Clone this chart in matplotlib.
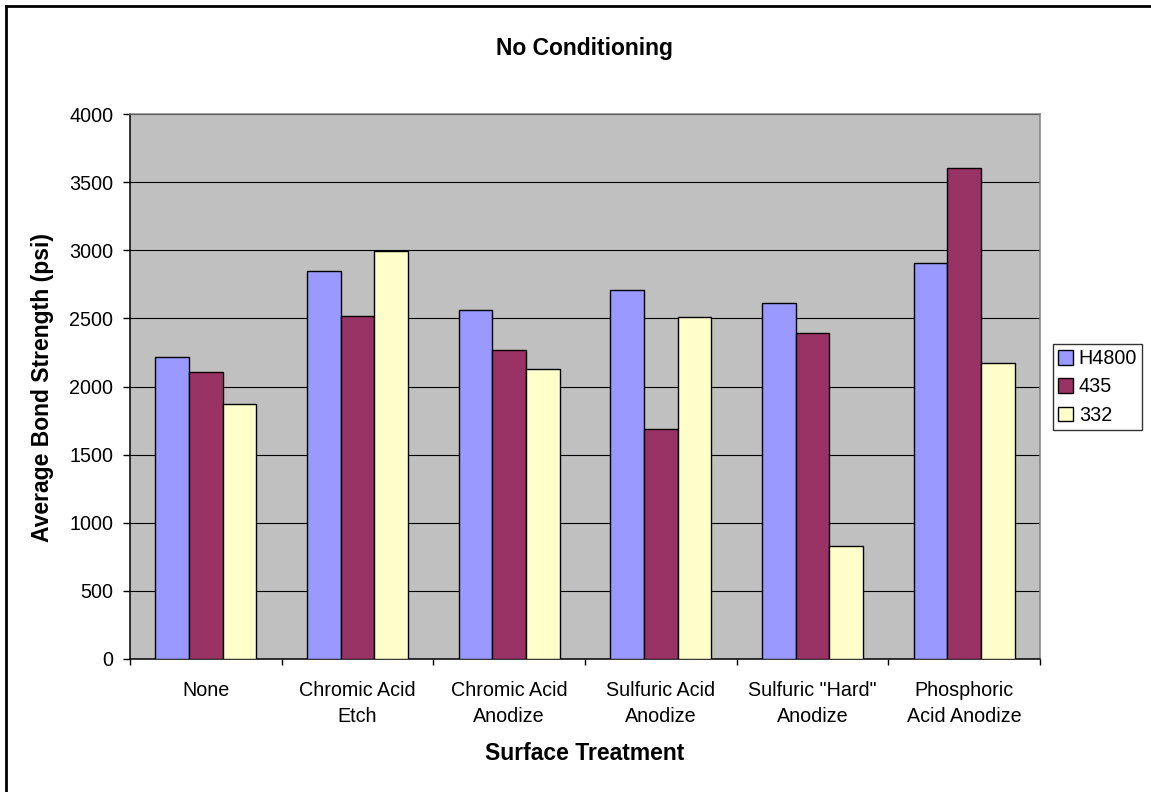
import numpy as np
import matplotlib
matplotlib.use("Agg")
import matplotlib.pyplot as plt
from matplotlib.patches import Patch

plt.rcParams['font.family'] = ['Liberation Sans', 'DejaVu Sans']

treatments = ["None", "Chromic Acid\nEtch", "Chromic Acid\nAnodize", "Sulfuric Acid\nAnodize",
              "Sulfuric \"Hard\"\nAnodize", "Phosphoric\nAcid Anodize"]
series_names = ["H4800", "435", "332"]
h4800 = [2215, 2845, 2560, 2710, 2615, 2905]
s435 = [2105, 2520, 2265, 1685, 2395, 3605]
s332 = [1870, 2995, 2130, 2510, 830, 2170]
colors = ["#9999FF", "#993366", "#FFFFCC"]
yticks = [0, 500, 1000, 1500, 2000, 2500, 3000, 3500, 4000]

W, H = 1151, 792
fig = plt.figure(figsize=(W/100, H/100), dpi=100)
ax = fig.add_axes([130/W, (H-659)/H, 910/W, 545/H])
ax.set_facecolor("#C0C0C0")

x = np.arange(len(treatments))
bw = 2/3/3
for i, (vals, c) in enumerate(zip([h4800, s435, s332], colors)):
    ax.bar(x + (i-1)*bw, vals, width=bw, color=c, edgecolor="black", linewidth=1.0, zorder=3)

ax.set_xlim(-0.5, len(treatments)-0.5)
ax.set_ylim(0, 4000)
ax.set_yticks(yticks)
ax.set_yticklabels([str(t) for t in yticks], fontsize=14.2)
ax.yaxis.grid(True, color="black", linewidth=0.8, zorder=1)
ax.set_axisbelow(True)

# category boundaries carry the tick marks, labels sit in the middle
ax.set_xticks(np.arange(len(treatments)+1) - 0.5)
ax.set_xticklabels([])
ax.set_xticks(x, minor=True)
ax.set_xticklabels(treatments, minor=True, fontsize=14.2, linespacing=1.5)
ax.tick_params(axis='x', which='minor', length=0, pad=15.5)
ax.tick_params(axis='x', which='major', length=4.3, width=1, color="black")
ax.tick_params(axis='y', length=5, width=1, color="black", pad=7)

for s in ["left", "bottom"]:
    ax.spines[s].set_color("black")
    ax.spines[s].set_linewidth(1.1)
for s in ["top", "right"]:
    ax.spines[s].set_color("#808080")
    ax.spines[s].set_linewidth(1.1)

fig.text(585/W, 1-49/H, "No Conditioning", ha="center", va="center", fontsize=16.5, fontweight="bold")
fig.text(585/W, 1-754/H, "Surface Treatment", ha="center", va="center", fontsize=16.5, fontweight="bold")
fig.text(43/W, 1-387/H, "Average Bond Strength (psi)", ha="center", va="center", rotation=90,
         fontsize=16.5, fontweight="bold")

handles = [Patch(facecolor=c, edgecolor="black", linewidth=1) for c in colors]
leg = fig.legend(handles, series_names, loc="center left", bbox_to_anchor=(1053/W, 1-387/H),
                 fontsize=14.2, frameon=True, fancybox=False, edgecolor="black",
                 handlelength=0.75, handleheight=0.75, handletextpad=0.3, borderpad=0.26,
                 labelspacing=0.47, borderaxespad=0)
leg.get_frame().set_linewidth(1)

# chart area frame (left and top edges)
fig.add_artist(plt.Line2D([6/W, 6/W], [0, 1-6/H], color="black", linewidth=2, transform=fig.transFigure))
fig.add_artist(plt.Line2D([6/W, 1], [1-6/H, 1-6/H], color="black", linewidth=2, transform=fig.transFigure))

fig.savefig("out.png", dpi=100)
